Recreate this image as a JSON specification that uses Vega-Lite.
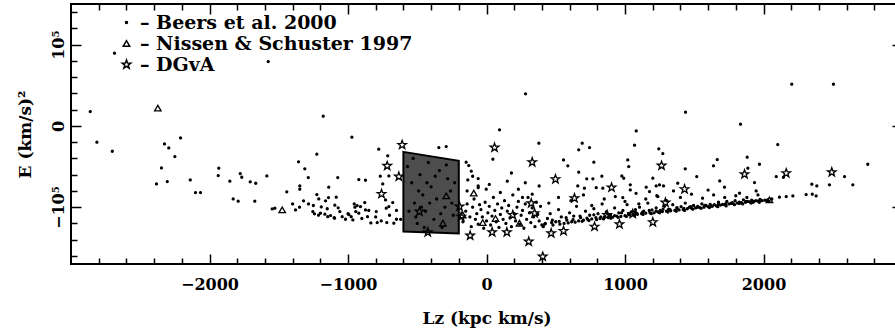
{
"$schema": "https://vega.github.io/schema/vega-lite/v6.json",
"width": 831, "height": 260,
"autosize": {"type": "none"},
"padding": {"left": 71, "top": 4, "right": 0, "bottom": 71},
"background": "white",
"config": {
 "view": {"stroke": "black", "strokeWidth": 2},
 "axis": {"domain": false, "grid": false, "labelFont": "DejaVu Serif", "labelFontWeight": "bold", "labelFontSize": 16, "labelColor": "black", "titleFont": "DejaVu Serif", "titleFontWeight": "bold", "titleFontSize": 17, "titleColor": "black", "tickColor": "black", "tickWidth": 1.5, "labelOverlap": false, "labelFlush": false},
 "legend": {"labelFont": "DejaVu Serif", "labelFontWeight": "bold", "labelFontSize": 19, "labelColor": "black", "labelLimit": 500}
},
"datasets": {
 "box": [{"lz": -600, "top": -32000, "bot": -130000}, {"lz": -200, "top": -43000, "bot": -132500}],
 "pts": [
{"src":"B","lz":-2861,"e":17600},{"src":"B","lz":-2813,"e":-20100},{"src":"B","lz":-2702,"e":-31200},{"src":"B","lz":-2686,"e":89500},{"src":"B","lz":-1576,"e":79200},{"src":"B","lz":-2209,"e":-14800},{"src":"B","lz":-2325,"e":-22200},{"src":"B","lz":-2294,"e":-27100},{"src":"B","lz":-2250,"e":-37800},{"src":"B","lz":-2347,"e":-51700},{"src":"B","lz":-2383,"e":-71400},{"src":"B","lz":-2305,"e":-68600},{"src":"B","lz":-2139,"e":-66500},{"src":"B","lz":-2101,"e":-82100},{"src":"B","lz":-2065,"e":-82100},{"src":"B","lz":-1933,"e":-52100},{"src":"B","lz":-1937,"e":-61200},{"src":"B","lz":-1853,"e":-68100},{"src":"B","lz":-1778,"e":-58700},{"src":"B","lz":-1767,"e":-63200},{"src":"B","lz":-1829,"e":-89900},{"src":"B","lz":-1793,"e":-92700},{"src":"B","lz":-1706,"e":-68900},{"src":"B","lz":-1666,"e":-70600},{"src":"B","lz":-1673,"e":-92700},{"src":"B","lz":-1586,"e":-61600},{"src":"B","lz":-1442,"e":-81200},{"src":"B","lz":-1547,"e":-102200},{"src":"B","lz":-1528,"e":-101300},{"src":"B","lz":-1379,"e":-103400},{"src":"B","lz":-1357,"e":-44300},{"src":"B","lz":-1179,"e":11900},{"src":"B","lz":-972,"e":-13900},{"src":"B","lz":-1225,"e":-34800},{"src":"B","lz":-1312,"e":-52900},{"src":"B","lz":-1287,"e":-63600},{"src":"B","lz":-1074,"e":-63600},{"src":"B","lz":-922,"e":-66100},{"src":"B","lz":-874,"e":-66800},{"src":"B","lz":-778,"e":-28700},{"src":"B","lz":-713,"e":-36900},{"src":"B","lz":-767,"e":-61900},{"src":"B","lz":-705,"e":-61600},{"src":"B","lz":-749,"e":-71400},{"src":"B","lz":-1348,"e":-73900},{"src":"B","lz":-1348,"e":-77900},{"src":"B","lz":-1139,"e":-75500},{"src":"B","lz":-1321,"e":-92300},{"src":"B","lz":-1285,"e":-96000},{"src":"B","lz":-1225,"e":-84600},{"src":"B","lz":-1211,"e":-89900},{"src":"B","lz":-1254,"e":-105500},{"src":"B","lz":-1242,"e":-108300},{"src":"B","lz":-1213,"e":-109900},{"src":"B","lz":-1199,"e":-107500},{"src":"B","lz":-1167,"e":-108700},{"src":"B","lz":-1146,"e":-111700},{"src":"B","lz":-1126,"e":-110400},{"src":"B","lz":-1097,"e":-113600},{"src":"B","lz":-1193,"e":-99700},{"src":"B","lz":-1162,"e":-92300},{"src":"B","lz":-1141,"e":-88300},{"src":"B","lz":-1085,"e":-87800},{"src":"B","lz":-1071,"e":-100900},{"src":"B","lz":-1059,"e":-105500},{"src":"B","lz":-1095,"e":-97600},{"src":"B","lz":-1042,"e":-111700},{"src":"B","lz":-1018,"e":-114900},{"src":"B","lz":-994,"e":-109200},{"src":"B","lz":-977,"e":-111700},{"src":"B","lz":-965,"e":-115700},{"src":"B","lz":-955,"e":-96000},{"src":"B","lz":-934,"e":-98100},{"src":"B","lz":-910,"e":-99300},{"src":"B","lz":-944,"e":-105500},{"src":"B","lz":-922,"e":-107500},{"src":"B","lz":-879,"e":-94400},{"src":"B","lz":-874,"e":-103400},{"src":"B","lz":-859,"e":-111700},{"src":"B","lz":-835,"e":-119400},{"src":"B","lz":-789,"e":-119000},{"src":"B","lz":-720,"e":-119000},{"src":"B","lz":-669,"e":-119800},{"src":"B","lz":-650,"e":-114900},{"src":"B","lz":-677,"e":-94400},{"src":"B","lz":-705,"e":-99300},{"src":"B","lz":-724,"e":-101300},{"src":"B","lz":-729,"e":-91100},{"src":"B","lz":-796,"e":-105500},
{"src":"B","lz":-1150,"e":-102000},{"src":"B","lz":-1000,"e":-108000},{"src":"B","lz":-900,"e":-114000},{"src":"B","lz":-850,"e":-104000},{"src":"B","lz":-800,"e":-112000},{"src":"B","lz":-760,"e":-117000},{"src":"B","lz":-700,"e":-110000},{"src":"B","lz":-650,"e":-104000},{"src":"B","lz":-620,"e":-115000},{"src":"B","lz":-1100,"e":-113000},{"src":"B","lz":-950,"e":-100000},{"src":"B","lz":-1250,"e":-98000},{"src":"B","lz":-1350,"e":-100000},{"src":"B","lz":-1400,"e":-96000},
{"src":"B","lz":-344,"e":-26700},{"src":"B","lz":-291,"e":-25500},{"src":"B","lz":94,"e":-4900},{"src":"B","lz":46,"e":-41000},{"src":"B","lz":378,"e":-21300},{"src":"B","lz":282,"e":39400},{"src":"B","lz":-147,"e":-44700},{"src":"B","lz":-128,"e":-48900},{"src":"B","lz":-110,"e":-55800},{"src":"B","lz":-135,"e":-66500},{"src":"B","lz":-60,"e":-64900},{"src":"B","lz":-60,"e":-73900},{"src":"B","lz":-2,"e":-77900},{"src":"B","lz":556,"e":-41900},{"src":"B","lz":587,"e":-49200},{"src":"B","lz":666,"e":-29500},{"src":"B","lz":724,"e":-65200},{"src":"B","lz":768,"e":-65200},{"src":"B","lz":691,"e":-21300},{"src":"B","lz":744,"e":-26700},{"src":"B","lz":775,"e":-44700},
{"src":"B","lz":-570,"e":-50000},{"src":"B","lz":-540,"e":-70000},{"src":"B","lz":-520,"e":-95000},{"src":"B","lz":-500,"e":-120000},{"src":"B","lz":-480,"e":-60000},{"src":"B","lz":-460,"e":-85000},{"src":"B","lz":-440,"e":-105000},{"src":"B","lz":-420,"e":-45000},{"src":"B","lz":-400,"e":-75000},{"src":"B","lz":-380,"e":-115000},{"src":"B","lz":-360,"e":-90000},{"src":"B","lz":-340,"e":-55000},{"src":"B","lz":-320,"e":-125000},{"src":"B","lz":-300,"e":-100000},{"src":"B","lz":-280,"e":-65000},{"src":"B","lz":-260,"e":-80000},{"src":"B","lz":-240,"e":-110000},{"src":"B","lz":-560,"e":-105000},{"src":"B","lz":-530,"e":-40000},{"src":"B","lz":-490,"e":-80000},{"src":"B","lz":-450,"e":-125000},{"src":"B","lz":-410,"e":-95000},{"src":"B","lz":-370,"e":-62000},{"src":"B","lz":-330,"e":-108000},{"src":"B","lz":-290,"e":-48000},{"src":"B","lz":-250,"e":-95000},{"src":"B","lz":-230,"e":-70000},{"src":"B","lz":-510,"e":-112000},{"src":"B","lz":-470,"e":-100000},{"src":"B","lz":-430,"e":-70000},
{"src":"B","lz":-170,"e":-118000},{"src":"B","lz":-150,"e":-105000},{"src":"B","lz":-140,"e":-96000},{"src":"B","lz":-120,"e":-112000},{"src":"B","lz":-110,"e":-124000},{"src":"B","lz":-100,"e":-100000},{"src":"B","lz":-90,"e":-90000},{"src":"B","lz":-80,"e":-115000},{"src":"B","lz":-70,"e":-108000},{"src":"B","lz":-60,"e":-121000},{"src":"B","lz":-50,"e":-97000},{"src":"B","lz":-40,"e":-103000},{"src":"B","lz":-30,"e":-112000},{"src":"B","lz":-20,"e":-126000},{"src":"B","lz":-10,"e":-94000},{"src":"B","lz":0,"e":-117000},{"src":"B","lz":10,"e":-107000},{"src":"B","lz":20,"e":-99000},{"src":"B","lz":30,"e":-122000},{"src":"B","lz":40,"e":-111000},{"src":"B","lz":50,"e":-88000},{"src":"B","lz":60,"e":-104000},{"src":"B","lz":70,"e":-118000},{"src":"B","lz":80,"e":-96000},{"src":"B","lz":90,"e":-125000},{"src":"B","lz":100,"e":-109000},{"src":"B","lz":110,"e":-101000},{"src":"B","lz":120,"e":-115000},{"src":"B","lz":130,"e":-92000},{"src":"B","lz":140,"e":-120000},{"src":"B","lz":150,"e":-105000},{"src":"B","lz":160,"e":-98000},{"src":"B","lz":170,"e":-113000},{"src":"B","lz":180,"e":-124000},{"src":"B","lz":190,"e":-85000},{"src":"B","lz":200,"e":-108000},{"src":"B","lz":210,"e":-117000},{"src":"B","lz":220,"e":-100000},{"src":"B","lz":230,"e":-93000},{"src":"B","lz":240,"e":-121000},{"src":"B","lz":250,"e":-110000},{"src":"B","lz":260,"e":-104000},{"src":"B","lz":270,"e":-126000},{"src":"B","lz":280,"e":-96000},{"src":"B","lz":290,"e":-115000},{"src":"B","lz":300,"e":-88000},{"src":"B","lz":310,"e":-107000},{"src":"B","lz":320,"e":-119000},{"src":"B","lz":330,"e":-101000},{"src":"B","lz":340,"e":-112000},{"src":"B","lz":350,"e":-124000},{"src":"B","lz":360,"e":-94000},{"src":"B","lz":370,"e":-109000},{"src":"B","lz":380,"e":-117000},{"src":"B","lz":390,"e":-99000},{"src":"B","lz":400,"e":-122000},
{"src":"B","lz":-140,"e":-80000},{"src":"B","lz":-60,"e":-76000},{"src":"B","lz":20,"e":-72000},{"src":"B","lz":100,"e":-82000},{"src":"B","lz":150,"e":-68000},{"src":"B","lz":230,"e":-78000},{"src":"B","lz":280,"e":-70000},{"src":"B","lz":330,"e":-84000},{"src":"B","lz":380,"e":-74000},{"src":"B","lz":-100,"e":-62000},{"src":"B","lz":180,"e":-58000},{"src":"B","lz":260,"e":-88000},
{"src":"B","lz":420,"e":-121000},{"src":"B","lz":440,"e":-114000},{"src":"B","lz":460,"e":-108000},{"src":"B","lz":480,"e":-122000},{"src":"B","lz":500,"e":-118000},{"src":"B","lz":520,"e":-103000},{"src":"B","lz":540,"e":-112000},{"src":"B","lz":560,"e":-120000},{"src":"B","lz":580,"e":-116000},{"src":"B","lz":600,"e":-107000},{"src":"B","lz":615,"e":-118000},{"src":"B","lz":630,"e":-111000},{"src":"B","lz":650,"e":-99000},{"src":"B","lz":665,"e":-117000},{"src":"B","lz":680,"e":-113000},{"src":"B","lz":700,"e":-116000},{"src":"B","lz":715,"e":-105000},{"src":"B","lz":730,"e":-115000},{"src":"B","lz":745,"e":-110000},{"src":"B","lz":760,"e":-114500},{"src":"B","lz":775,"e":-102000},{"src":"B","lz":790,"e":-113000},{"src":"B","lz":805,"e":-108000},{"src":"B","lz":820,"e":-114000},{"src":"B","lz":835,"e":-96000},{"src":"B","lz":850,"e":-112000},{"src":"B","lz":865,"e":-106000},{"src":"B","lz":880,"e":-113000},{"src":"B","lz":895,"e":-110000},{"src":"B","lz":910,"e":-112500},{"src":"B","lz":925,"e":-101000},{"src":"B","lz":940,"e":-111000},{"src":"B","lz":955,"e":-107000},{"src":"B","lz":970,"e":-111500},{"src":"B","lz":985,"e":-104000},{"src":"B","lz":1000,"e":-110500},{"src":"B","lz":1015,"e":-97000},{"src":"B","lz":1030,"e":-109500},{"src":"B","lz":1045,"e":-106000},{"src":"B","lz":1060,"e":-109000},{"src":"B","lz":1075,"e":-103000},{"src":"B","lz":1090,"e":-108800},{"src":"B","lz":1105,"e":-100000},{"src":"B","lz":1120,"e":-108000},{"src":"B","lz":1135,"e":-105000},{"src":"B","lz":1150,"e":-107500},{"src":"B","lz":1165,"e":-95000},{"src":"B","lz":1180,"e":-107000},{"src":"B","lz":1195,"e":-103500},{"src":"B","lz":1210,"e":-107000},{"src":"B","lz":1225,"e":-101000},{"src":"B","lz":1240,"e":-106000},{"src":"B","lz":1255,"e":-104000},{"src":"B","lz":1270,"e":-105500},{"src":"B","lz":1285,"e":-99000},{"src":"B","lz":1300,"e":-105000},{"src":"B","lz":1315,"e":-102500},{"src":"B","lz":1330,"e":-104500},{"src":"B","lz":1345,"e":-97000},{"src":"B","lz":1360,"e":-104000},{"src":"B","lz":1375,"e":-101500},{"src":"B","lz":1390,"e":-103500},{"src":"B","lz":1405,"e":-99500},{"src":"B","lz":1420,"e":-103000},{"src":"B","lz":1435,"e":-95000},{"src":"B","lz":1450,"e":-102000},{"src":"B","lz":1465,"e":-100000},{"src":"B","lz":1480,"e":-101500},{"src":"B","lz":1495,"e":-98000},{"src":"B","lz":1510,"e":-101000},{"src":"B","lz":1525,"e":-99000},{"src":"B","lz":1540,"e":-100500},{"src":"B","lz":1555,"e":-96000},{"src":"B","lz":1570,"e":-100000},{"src":"B","lz":1585,"e":-98000},{"src":"B","lz":1600,"e":-99500},{"src":"B","lz":1615,"e":-96500},{"src":"B","lz":1630,"e":-99000},{"src":"B","lz":1645,"e":-97000},{"src":"B","lz":1660,"e":-98500},{"src":"B","lz":1675,"e":-94000},{"src":"B","lz":1690,"e":-97500},{"src":"B","lz":1705,"e":-96500},{"src":"B","lz":1720,"e":-97000},{"src":"B","lz":1735,"e":-93000},{"src":"B","lz":1750,"e":-96000},{"src":"B","lz":1765,"e":-95500},{"src":"B","lz":1780,"e":-95500},{"src":"B","lz":1795,"e":-92000},{"src":"B","lz":1810,"e":-95000},{"src":"B","lz":1825,"e":-94000},{"src":"B","lz":1840,"e":-94500},{"src":"B","lz":1855,"e":-91000},{"src":"B","lz":1870,"e":-94000},{"src":"B","lz":1885,"e":-93000},{"src":"B","lz":1900,"e":-93500},{"src":"B","lz":1915,"e":-91500},{"src":"B","lz":1930,"e":-93000},{"src":"B","lz":1945,"e":-92000},{"src":"B","lz":1960,"e":-92500},{"src":"B","lz":1975,"e":-90500},{"src":"B","lz":1990,"e":-92000},{"src":"B","lz":2010,"e":-91500},{"src":"B","lz":2030,"e":-91000},{"src":"B","lz":2060,"e":-90000},
{"src":"B","lz":410,"e":-124000},{"src":"B","lz":470,"e":-119000},{"src":"B","lz":530,"e":-121000},{"src":"B","lz":590,"e":-119500},{"src":"B","lz":640,"e":-118500},{"src":"B","lz":690,"e":-117500},{"src":"B","lz":740,"e":-116500},{"src":"B","lz":795,"e":-115500},{"src":"B","lz":845,"e":-114500},{"src":"B","lz":900,"e":-113500},{"src":"B","lz":950,"e":-112500},{"src":"B","lz":1010,"e":-111500},{"src":"B","lz":1070,"e":-110000},{"src":"B","lz":1130,"e":-109000},{"src":"B","lz":1190,"e":-108000},{"src":"B","lz":1250,"e":-107000},{"src":"B","lz":1310,"e":-106000},{"src":"B","lz":1370,"e":-105000},{"src":"B","lz":1430,"e":-104000},{"src":"B","lz":1490,"e":-102500},{"src":"B","lz":1550,"e":-101500},{"src":"B","lz":1610,"e":-100500},{"src":"B","lz":1670,"e":-99500},{"src":"B","lz":1730,"e":-98500},{"src":"B","lz":1790,"e":-97000},{"src":"B","lz":1850,"e":-96000},{"src":"B","lz":1910,"e":-95000},{"src":"B","lz":1970,"e":-94000},{"src":"B","lz":2040,"e":-93000},
{"src":"B","lz":425,"e":-120000},{"src":"B","lz":475,"e":-116000},{"src":"B","lz":525,"e":-117500},{"src":"B","lz":575,"e":-113000},{"src":"B","lz":625,"e":-115500},{"src":"B","lz":675,"e":-111000},{"src":"B","lz":725,"e":-113500},{"src":"B","lz":775,"e":-109500},{"src":"B","lz":825,"e":-112000},{"src":"B","lz":875,"e":-108500},{"src":"B","lz":925,"e":-110500},{"src":"B","lz":975,"e":-107000},{"src":"B","lz":1025,"e":-108000},{"src":"B","lz":1075,"e":-106000},{"src":"B","lz":1125,"e":-106500},{"src":"B","lz":1175,"e":-104000},{"src":"B","lz":1225,"e":-105000},{"src":"B","lz":1275,"e":-102500},{"src":"B","lz":1325,"e":-103000},{"src":"B","lz":1375,"e":-100500},{"src":"B","lz":1425,"e":-101500},{"src":"B","lz":1475,"e":-99500},{"src":"B","lz":1525,"e":-100000},{"src":"B","lz":1575,"e":-98000},{"src":"B","lz":1625,"e":-98500},{"src":"B","lz":1675,"e":-96500},{"src":"B","lz":1725,"e":-96000},{"src":"B","lz":1775,"e":-94500},{"src":"B","lz":1825,"e":-95500},{"src":"B","lz":1875,"e":-93000},{"src":"B","lz":1925,"e":-94000},{"src":"B","lz":1975,"e":-91500},{"src":"B","lz":2025,"e":-92500},
{"src":"B","lz":450,"e":-95000},{"src":"B","lz":520,"e":-88000},{"src":"B","lz":610,"e":-92000},{"src":"B","lz":700,"e":-85000},{"src":"B","lz":760,"e":-98000},{"src":"B","lz":850,"e":-90000},{"src":"B","lz":930,"e":-87000},{"src":"B","lz":1000,"e":-93000},{"src":"B","lz":1080,"e":-83000},{"src":"B","lz":1150,"e":-90000},{"src":"B","lz":1230,"e":-86000},{"src":"B","lz":1300,"e":-92000},{"src":"B","lz":1400,"e":-88000},{"src":"B","lz":1480,"e":-84000},{"src":"B","lz":1560,"e":-89000},{"src":"B","lz":1640,"e":-85000},{"src":"B","lz":1720,"e":-88000},{"src":"B","lz":1800,"e":-86000},{"src":"B","lz":1880,"e":-88000},{"src":"B","lz":1960,"e":-85000},{"src":"B","lz":1100,"e":-96000},{"src":"B","lz":1350,"e":-80000},{"src":"B","lz":1600,"e":-79000},
{"src":"B","lz":1437,"e":16900},{"src":"B","lz":1081,"e":-6200},{"src":"B","lz":1069,"e":-23800},{"src":"B","lz":1244,"e":-28300},{"src":"B","lz":1273,"e":-34100},{"src":"B","lz":1435,"e":-52900},{"src":"B","lz":1020,"e":-41900},{"src":"B","lz":1027,"e":-50100},{"src":"B","lz":666,"e":-57000},{"src":"B","lz":833,"e":-61900},{"src":"B","lz":659,"e":-73900},{"src":"B","lz":707,"e":-76700},{"src":"B","lz":792,"e":-76000},{"src":"B","lz":840,"e":-76700},{"src":"B","lz":977,"e":-61600},{"src":"B","lz":991,"e":-64400},{"src":"B","lz":1038,"e":-72600},{"src":"B","lz":1038,"e":-78800},{"src":"B","lz":984,"e":-88300},{"src":"B","lz":1153,"e":-75500},{"src":"B","lz":1177,"e":-80900},{"src":"B","lz":1201,"e":-64400},{"src":"B","lz":1225,"e":-73900},{"src":"B","lz":1249,"e":-72600},{"src":"B","lz":1278,"e":-73900},{"src":"B","lz":1381,"e":-70500},{"src":"B","lz":1237,"e":-87000},{"src":"B","lz":2204,"e":51300},{"src":"B","lz":2505,"e":51300},{"src":"B","lz":1834,"e":2100},{"src":"B","lz":2103,"e":-23000},{"src":"B","lz":2753,"e":-47200},{"src":"B","lz":1882,"e":-38500},{"src":"B","lz":1666,"e":-41500},{"src":"B","lz":1639,"e":-49200},{"src":"B","lz":1971,"e":-47200},{"src":"B","lz":1887,"e":-52100},{"src":"B","lz":2092,"e":-62400},{"src":"B","lz":2144,"e":-63200},{"src":"B","lz":2585,"e":-62400},{"src":"B","lz":2645,"e":-72600},{"src":"B","lz":2476,"e":-72600},{"src":"B","lz":2349,"e":-71800},{"src":"B","lz":2385,"e":-73900},{"src":"B","lz":2380,"e":-86200},{"src":"B","lz":2352,"e":-84000},{"src":"B","lz":2308,"e":-84500},{"src":"B","lz":2212,"e":-86200},{"src":"B","lz":2164,"e":-87000},{"src":"B","lz":2115,"e":-87800},{"src":"B","lz":1947,"e":-80000},{"src":"B","lz":1827,"e":-82800},{"src":"B","lz":1935,"e":-69800},{"src":"B","lz":1718,"e":-75500},{"src":"B","lz":1518,"e":-62400},{"src":"B","lz":1684,"e":-67700},
{"src":"N","lz":-2373,"e":21800},{"src":"N","lz":-1475,"e":-103400},{"src":"N","lz":-92,"e":-82800},{"src":"N","lz":65,"e":-114100},{"src":"N","lz":-27,"e":-119000},{"src":"N","lz":238,"e":-119800},{"src":"N","lz":-171,"e":-109600},{"src":"N","lz":-291,"e":-86200},{"src":"N","lz":-315,"e":-119800},{"src":"N","lz":2043,"e":-91100},
{"src":"D","lz":-609,"e":-23400},{"src":"D","lz":-717,"e":-49200},{"src":"D","lz":-633,"e":-62400},{"src":"D","lz":-758,"e":-83700},{"src":"D","lz":58,"e":-26700},{"src":"D","lz":330,"e":-44700},{"src":"D","lz":498,"e":-65600},{"src":"D","lz":635,"e":-89000},{"src":"D","lz":903,"e":-75900},{"src":"D","lz":1264,"e":-48900},{"src":"D","lz":1292,"e":-94400},{"src":"D","lz":1430,"e":-77900},{"src":"D","lz":1863,"e":-59500},{"src":"D","lz":2164,"e":-58200},{"src":"D","lz":2493,"e":-57000},{"src":"D","lz":190,"e":-109600},{"src":"D","lz":-118,"e":-135000},{"src":"D","lz":41,"e":-130900},{"src":"D","lz":147,"e":-130900},{"src":"D","lz":305,"e":-142400},{"src":"D","lz":406,"e":-160900},{"src":"D","lz":323,"e":-95200},{"src":"D","lz":347,"e":-107500},{"src":"D","lz":-424,"e":-130900},{"src":"D","lz":-195,"e":-99300},{"src":"D","lz":-183,"e":-111700},{"src":"D","lz":467,"e":-132100},{"src":"D","lz":556,"e":-129300},{"src":"D","lz":780,"e":-124000},{"src":"D","lz":960,"e":-121000},{"src":"D","lz":1201,"e":-118500},{"src":"D","lz":871,"e":-109600},{"src":"D","lz":1056,"e":-108300},{"src":"D","lz":-484,"e":-105500}
 ]
},
"resolve": {"axis": {"x": "independent", "y": "independent"}},
"layer": [
 {
  "data": {"name": "box"},
  "mark": {"type": "area", "fill": "#4d4d4d", "stroke": "black", "strokeWidth": 2},
  "encoding": {
   "x": {"field": "lz", "type": "quantitative", "scale": {"domain": [-3000, 3000], "nice": false, "zero": false},
     "axis": {"orient": "bottom", "title": "Lz (kpc km/s)", "format": "d", "values": [-2000, -1000, 0, 1000, 2000],
       "tickSize": -10, "labelPadding": 22, "titlePadding": 18}},
   "y": {"field": "top", "type": "quantitative", "scale": {"domain": [-170000, 150000], "nice": false, "zero": false},
     "axis": {"orient": "left", "title": "E (km/s)²", "values": [-100000, 0, 100000], "tickSize": -10,
       "labelExpr": "datum.value === 100000 ? '10⁵' : datum.value === 0 ? '0' : '−10⁵'",
       "labelAngle": -90, "labelAlign": "center", "labelBaseline": "bottom", "labelPadding": 15, "titlePadding": 16}},
   "y2": {"field": "bot"}
  }
 },
 {
  "data": {"name": "pts"},
  "mark": {"type": "point", "stroke": "black", "strokeWidth": 1.3, "opacity": 1},
  "encoding": {
   "x": {"field": "lz", "type": "quantitative",
     "axis": {"orient": "bottom", "title": null, "labels": false, "tickSize": -6,
       "values": [-2800,-2600,-2400,-2200,-1800,-1600,-1400,-1200,-800,-600,-400,-200,200,400,600,800,1200,1400,1600,1800,2200,2400,2600,2800]}},
   "y": {"field": "e", "type": "quantitative",
     "axis": {"orient": "left", "title": null, "labels": false, "tickSize": -6,
       "values": [-160000,-140000,-120000,-80000,-60000,-40000,-20000,20000,40000,60000,80000,120000,140000]}},
   "shape": {"field": "src", "type": "nominal", "scale": {"domain": ["B", "N", "D"], "range": ["circle", "triangle-up", "M0,-1L0.235,-0.324L0.951,-0.309L0.38,0.124L0.588,0.809L0,0.4L-0.588,0.809L-0.38,0.124L-0.951,-0.309L-0.235,-0.324Z"]},
     "legend": {"orient": "none", "legendX": 46, "legendY": 9, "title": null, "padding": 0, "rowPadding": 1, "labelOffset": 4,
       "labelExpr": "datum.label === 'B' ? '– Beers et al. 2000' : datum.label === 'N' ? '– Nissen & Schuster 1997' : '– DGvA'"}},
   "size": {"field": "src", "type": "nominal", "scale": {"domain": ["B", "N", "D"], "range": [4, 80, 130]},
     "legend": {"orient": "none", "legendX": 46, "legendY": 9, "title": null, "padding": 0, "rowPadding": 1, "labelOffset": 4,
       "labelExpr": "datum.label === 'B' ? '– Beers et al. 2000' : datum.label === 'N' ? '– Nissen & Schuster 1997' : '– DGvA'"}},
   "fill": {"field": "src", "type": "nominal", "scale": {"domain": ["B", "N", "D"], "range": ["black", "transparent", "transparent"]},
     "legend": {"orient": "none", "legendX": 46, "legendY": 9, "title": null, "padding": 0, "rowPadding": 1, "labelOffset": 4,
       "labelExpr": "datum.label === 'B' ? '– Beers et al. 2000' : datum.label === 'N' ? '– Nissen & Schuster 1997' : '– DGvA'"}}
  }
 },
 {
  "data": {"name": "box"},
  "mark": {"type": "point", "opacity": 0},
  "encoding": {
   "x": {"field": "lz", "type": "quantitative",
     "axis": {"orient": "top", "title": null, "labels": false, "tickSize": -10, "values": [-2000, -1000, 0, 1000, 2000]}},
   "y": {"field": "top", "type": "quantitative",
     "axis": {"orient": "right", "title": null, "labels": false, "tickSize": -10, "values": [-100000, 0, 100000]}}
  }
 },
 {
  "data": {"name": "box"},
  "mark": {"type": "point", "opacity": 0},
  "encoding": {
   "x": {"field": "lz", "type": "quantitative",
     "axis": {"orient": "top", "title": null, "labels": false, "tickSize": -6,
       "values": [-2800,-2600,-2400,-2200,-1800,-1600,-1400,-1200,-800,-600,-400,-200,200,400,600,800,1200,1400,1600,1800,2200,2400,2600,2800]}},
   "y": {"field": "top", "type": "quantitative",
     "axis": {"orient": "right", "title": null, "labels": false, "tickSize": -6,
       "values": [-160000,-140000,-120000,-80000,-60000,-40000,-20000,20000,40000,60000,80000,120000,140000]}}
  }
 }
]
}
